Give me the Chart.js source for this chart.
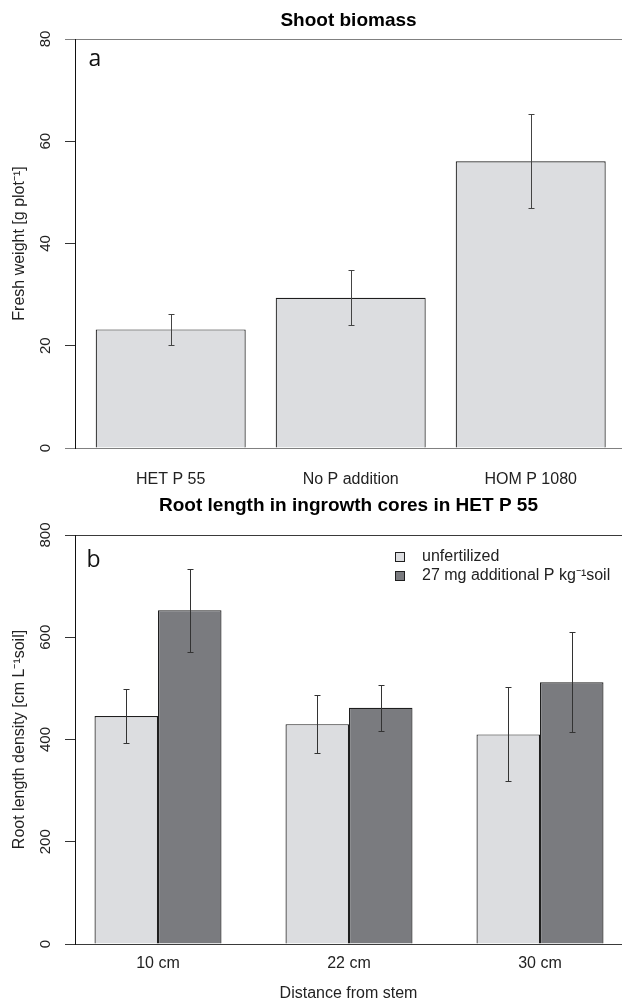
<!DOCTYPE html>
<html>
<head>
<meta charset="utf-8">
<title>Shoot biomass / Root length</title>
<script src="https://cdn.jsdelivr.net/npm/chart.js@4.4.1/dist/chart.umd.min.js"></script>
<style>
    body { margin: 0; background: #fff; }
    .panel { position: absolute; left: 0; width: 622px; }
    #panelA { top: 0; height: 490px; }
    #panelB { top: 490px; height: 512px; }
</style>
</head>
<body>
<div class="panel" id="panelA"><canvas id="shootChart"></canvas></div>
<div class="panel" id="panelB"><canvas id="rootChart"></canvas></div>
<script>
// ========================
// Data
// ========================
const shootCategories = ['HET P 55', 'No P addition', 'HOM P 1080'];
const shootMeans = [23.2, 29.4, 56.1];
const shootErrors = [3.1, 5.4, 9.2];
const shootTicks = [0, 20, 40, 60, 80];

const rootCategories = ['10 cm', '22 cm', '30 cm'];
const rootSeries = ['unfertilized', '27 mg additional P kg\u207B\u00B9soil'];
const rootUnfertilized = [446, 430, 410];
const rootUnfertilizedErr = [52, 57, 92];
const rootFertilized = [653, 462, 512];
const rootFertilizedErr = [81, 45, 98];
const rootTicks = [0, 200, 400, 600, 800];

// ========================
// Shared styling
// ========================
const FONT = "'Liberation Sans', Arial, Helvetica, sans-serif";
const LIGHT = '#dcdde0';
const DARK = '#7a7b7f';
const EDGE = '#1e1e1e';
const TEXT = '#222222';

// error bars drawn from dataset.errors through the y scale
const errorBars = {
    id: 'errorBars',
    afterDatasetsDraw(chart, args, opts) {
        const ctx = chart.ctx;
        const yScale = chart.scales.y;
        ctx.save();
        ctx.strokeStyle = opts.color;
        ctx.lineWidth = 1;
        chart.data.datasets.forEach((ds, i) => {
            const meta = chart.getDatasetMeta(i);
            meta.data.forEach((bar, j) => {
                const v = ds.data[j].y;
                const e = ds.errors[j];
                const x = Math.round(bar.x) + 0.5;
                const top = Math.round(yScale.getPixelForValue(v + e)) + 0.5;
                const bot = Math.round(yScale.getPixelForValue(v - e)) + 0.5;
                ctx.beginPath();
                ctx.moveTo(x, top); ctx.lineTo(x, bot);
                ctx.moveTo(x - opts.cap, top); ctx.lineTo(x + opts.cap, top);
                ctx.moveTo(x - opts.cap, bot); ctx.lineTo(x + opts.cap, bot);
                ctx.stroke();
            });
        });
        ctx.restore();
    }
};

// panel letter (a / b) in the top-left corner of the plot
const panelLetter = {
    id: 'panelLetter',
    afterDraw(chart, args, opts) {
        const { ctx, chartArea } = chart;
        ctx.save();
        ctx.font = "23px 'Open Sans', sans-serif";
        ctx.fillStyle = '#111';
        ctx.textBaseline = 'alphabetic';
        ctx.fillText(opts.text, chartArea.left + opts.dx, chartArea.top + opts.dy);
        ctx.restore();
    }
};

// boxed legend inside the plot, top right
const boxLegend = {
    id: 'boxLegend',
    afterDraw(chart, args, opts) {
        const { ctx, chartArea } = chart;
        ctx.save();
        ctx.font = '16px ' + FONT;
        ctx.textBaseline = 'alphabetic';
        chart.data.datasets.forEach((ds, i) => {
            const x = Math.round(chartArea.right - opts.right);
            const y = Math.round(chartArea.top + opts.top + i * opts.rowHeight);
            ctx.fillStyle = ds.backgroundColor;
            ctx.fillRect(x, y, 10, 10);
            ctx.strokeStyle = EDGE;
            ctx.lineWidth = 1;
            ctx.strokeRect(x + 0.5, y + 0.5, 9, 9);
            ctx.fillStyle = TEXT;
            ctx.fillText(ds.label, x + 27, y + 8.5);
        });
        ctx.restore();
    }
};

function yAxis(ticks, title, tickPad, lineColor) {
    const top = ticks[ticks.length - 1];
    const edge = v => v === 0 || v === top;
    return {
        min: 0,
        max: top,
        z: 1,
        afterBuildTicks: s => { s.ticks = ticks.map(v => ({ value: v })); },
        afterFit: s => { s.width = 75; },
        border: { display: true, color: '#111', width: 1 },
        grid: {
            drawTicks: true,
            tickLength: 10,
            color: c => edge(c.tick.value) ? lineColor : 'rgba(0,0,0,0)',
            tickColor: c => edge(c.tick.value) ? lineColor : '#333'
        },
        ticks: {
            font: { family: FONT, size: 15 },
            color: TEXT,
            minRotation: 90,
            maxRotation: 90,
            crossAlign: 'center',
            padding: tickPad
        },
        title: {
            display: true,
            text: title,
            color: TEXT,
            font: { family: FONT, size: 16 },
            padding: { top: 9.9, bottom: 0 }
        }
    };
}

function xAxis(categories, min, max, height, pad, title) {
    return {
        type: 'linear',
        offset: false,
        min: min,
        max: max,
        afterBuildTicks: s => { s.ticks = categories.map((c, i) => ({ value: i })); },
        afterFit: s => { s.height = height; },
        border: { display: false },
        grid: { display: false, drawTicks: false },
        ticks: {
            font: { family: FONT, size: 16 },
            color: TEXT,
            maxRotation: 0,
            autoSkip: false,
            padding: pad,
            callback: v => categories[v]
        },
        title: title ? {
            display: true,
            text: title,
            color: TEXT,
            font: { family: FONT, size: 16, lineHeight: 1 },
            padding: { top: 0, bottom: 0 }
        } : { display: false }
    };
}

function chartTitle(text, top, bottom) {
    return {
        display: true,
        text: text,
        fullSize: false,
        color: '#000',
        font: { family: FONT, size: 19, weight: 'bold' },
        padding: { top: top, bottom: bottom }
    };
}

// ========================
// Chart a: Shoot biomass
// ========================
new Chart(document.getElementById('shootChart'), {
    type: 'bar',
    data: {
        datasets: [{
            label: 'Shoot biomass',
            data: shootMeans.map((v, i) => ({ x: i, y: v })),
            errors: shootErrors,
            backgroundColor: LIGHT,
            borderColor: EDGE,
            borderWidth: 1.2,
            barPercentage: 150 / 180,
            categoryPercentage: 1
        }]
    },
    options: {
        responsive: true,
        maintainAspectRatio: false,
        animation: false,
        events: [],
        layout: { padding: 0 },
        scales: {
            x: xAxis(shootCategories, -0.5317, 2.5072, 42, 21.7, null),
            y: yAxis(shootTicks, 'Fresh weight [g plot\u207B\u00B9]', 10.4, '#808080')
        },
        plugins: {
            legend: { display: false },
            tooltip: { enabled: false },
            title: chartTitle('Shoot biomass', 9.1, 7.1),
            errorBars: { color: '#444', cap: 3 },
            panelLetter: { text: 'a', dx: 13.5, dy: 27 }
        }
    },
    plugins: [errorBars, panelLetter]
});

// ========================
// Chart b: Root length density
// ========================
new Chart(document.getElementById('rootChart'), {
    type: 'bar',
    data: {
        datasets: [
            {
                label: rootSeries[0],
                data: rootUnfertilized.map((v, i) => ({ x: i, y: v })),
                errors: rootUnfertilizedErr,
                backgroundColor: LIGHT,
                borderColor: EDGE,
                borderWidth: 1.2,
                barPercentage: 1,
                categoryPercentage: 127 / 191
            },
            {
                label: rootSeries[1],
                data: rootFertilized.map((v, i) => ({ x: i, y: v })),
                errors: rootFertilizedErr,
                backgroundColor: DARK,
                borderColor: EDGE,
                borderWidth: 1.2,
                barPercentage: 1,
                categoryPercentage: 127 / 191
            }
        ]
    },
    options: {
        responsive: true,
        maintainAspectRatio: false,
        animation: false,
        events: [],
        layout: { padding: 0 },
        scales: {
            x: xAxis(rootCategories, -0.4346, 2.4293, 58, 10, 'Distance from stem'),
            y: yAxis(rootTicks, 'Root length density [cm L\u207B\u00B9soil]', 6.2, '#3a3a3a')
        },
        plugins: {
            legend: { display: false },
            tooltip: { enabled: false },
            title: chartTitle('Root length in ingrowth cores in HET P 55', 4.3, 17.9),
            errorBars: { color: '#333', cap: 3 },
            panelLetter: { text: 'b', dx: 11.5, dy: 31.7 },
            boxLegend: { right: 227, top: 16.5, rowHeight: 19.5 }
        }
    },
    plugins: [errorBars, panelLetter, boxLegend]
});
</script>
</body>
</html>
